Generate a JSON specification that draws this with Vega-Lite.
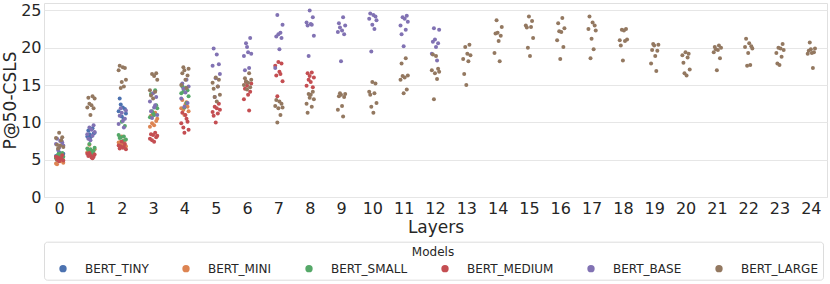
{
"$schema": "https://vega.github.io/schema/vega-lite/v6.json",
"autosize": {"type": "none"},
"padding": {"left": 44, "top": 3, "right": 3, "bottom": 87},
"width": 783,
"height": 194,
"background": "white",
"config": {
  "font": "DejaVu Sans",
  "view": {"stroke": "#e0e0e0", "strokeWidth": 1},
  "axis": {"domain": false, "ticks": false, "labelColor": "#262626", "titleColor": "#262626", "labelFont": "DejaVu Sans", "titleFont": "DejaVu Sans", "titleFontWeight": "normal", "labelFontSize": 16, "titleFontSize": 17}
},
"data": {"values": [
{"layer":0,"model":"BERT_TINY","p":6.0,"i":3},{"layer":0,"model":"BERT_TINY","p":5.7,"i":6},{"layer":0,"model":"BERT_TINY","p":5.5,"i":0},{"layer":0,"model":"BERT_TINY","p":5.3,"i":5},{"layer":0,"model":"BERT_TINY","p":5.1,"i":1},{"layer":0,"model":"BERT_TINY","p":5.8,"i":7},{"layer":0,"model":"BERT_TINY","p":5.4,"i":2},{"layer":0,"model":"BERT_TINY","p":4.9,"i":4},
{"layer":1,"model":"BERT_TINY","p":9.2,"i":5},{"layer":1,"model":"BERT_TINY","p":8.9,"i":1},{"layer":1,"model":"BERT_TINY","p":8.6,"i":7},{"layer":1,"model":"BERT_TINY","p":8.4,"i":2},{"layer":1,"model":"BERT_TINY","p":8.2,"i":4},{"layer":1,"model":"BERT_TINY","p":8.1,"i":0},{"layer":1,"model":"BERT_TINY","p":8.5,"i":6},{"layer":1,"model":"BERT_TINY","p":8.0,"i":3},
{"layer":2,"model":"BERT_TINY","p":13.2,"i":1},{"layer":2,"model":"BERT_TINY","p":12.0,"i":4},{"layer":2,"model":"BERT_TINY","p":11.8,"i":6},{"layer":2,"model":"BERT_TINY","p":11.5,"i":0},{"layer":2,"model":"BERT_TINY","p":11.2,"i":7},{"layer":2,"model":"BERT_TINY","p":10.8,"i":3},{"layer":2,"model":"BERT_TINY","p":10.5,"i":5},{"layer":2,"model":"BERT_TINY","p":12.4,"i":2},
{"layer":0,"model":"BERT_MINI","p":5.2,"i":6},{"layer":0,"model":"BERT_MINI","p":5.0,"i":2},{"layer":0,"model":"BERT_MINI","p":4.8,"i":4},{"layer":0,"model":"BERT_MINI","p":4.6,"i":7},{"layer":0,"model":"BERT_MINI","p":4.5,"i":0},{"layer":0,"model":"BERT_MINI","p":4.9,"i":5},{"layer":0,"model":"BERT_MINI","p":4.4,"i":1},{"layer":0,"model":"BERT_MINI","p":5.1,"i":3},
{"layer":1,"model":"BERT_MINI","p":7.0,"i":2},{"layer":1,"model":"BERT_MINI","p":6.4,"i":7},{"layer":1,"model":"BERT_MINI","p":6.1,"i":3},{"layer":1,"model":"BERT_MINI","p":5.9,"i":1},{"layer":1,"model":"BERT_MINI","p":5.8,"i":6},{"layer":1,"model":"BERT_MINI","p":5.7,"i":4},{"layer":1,"model":"BERT_MINI","p":6.0,"i":0},{"layer":1,"model":"BERT_MINI","p":5.6,"i":5},
{"layer":2,"model":"BERT_MINI","p":8.1,"i":3},{"layer":2,"model":"BERT_MINI","p":7.6,"i":6},{"layer":2,"model":"BERT_MINI","p":7.3,"i":0},{"layer":2,"model":"BERT_MINI","p":7.2,"i":5},{"layer":2,"model":"BERT_MINI","p":7.0,"i":1},{"layer":2,"model":"BERT_MINI","p":6.8,"i":7},{"layer":2,"model":"BERT_MINI","p":7.4,"i":2},{"layer":2,"model":"BERT_MINI","p":6.9,"i":4},
{"layer":3,"model":"BERT_MINI","p":11.3,"i":5},{"layer":3,"model":"BERT_MINI","p":10.9,"i":1},{"layer":3,"model":"BERT_MINI","p":10.5,"i":7},{"layer":3,"model":"BERT_MINI","p":9.9,"i":2},{"layer":3,"model":"BERT_MINI","p":9.6,"i":4},{"layer":3,"model":"BERT_MINI","p":9.4,"i":0},{"layer":3,"model":"BERT_MINI","p":10.2,"i":6},{"layer":3,"model":"BERT_MINI","p":11.0,"i":3},
{"layer":4,"model":"BERT_MINI","p":13.0,"i":1},{"layer":4,"model":"BERT_MINI","p":12.4,"i":4},{"layer":4,"model":"BERT_MINI","p":12.1,"i":6},{"layer":4,"model":"BERT_MINI","p":11.9,"i":0},{"layer":4,"model":"BERT_MINI","p":11.5,"i":7},{"layer":4,"model":"BERT_MINI","p":11.0,"i":3},{"layer":4,"model":"BERT_MINI","p":12.7,"i":5},{"layer":4,"model":"BERT_MINI","p":11.7,"i":2},
{"layer":0,"model":"BERT_SMALL","p":5.9,"i":6},{"layer":0,"model":"BERT_SMALL","p":5.7,"i":2},{"layer":0,"model":"BERT_SMALL","p":5.6,"i":4},{"layer":0,"model":"BERT_SMALL","p":5.4,"i":7},{"layer":0,"model":"BERT_SMALL","p":5.2,"i":0},{"layer":0,"model":"BERT_SMALL","p":5.5,"i":5},{"layer":0,"model":"BERT_SMALL","p":5.0,"i":1},{"layer":0,"model":"BERT_SMALL","p":5.8,"i":3},
{"layer":1,"model":"BERT_SMALL","p":7.1,"i":2},{"layer":1,"model":"BERT_SMALL","p":6.6,"i":7},{"layer":1,"model":"BERT_SMALL","p":6.4,"i":3},{"layer":1,"model":"BERT_SMALL","p":6.3,"i":1},{"layer":1,"model":"BERT_SMALL","p":6.2,"i":6},{"layer":1,"model":"BERT_SMALL","p":6.0,"i":4},{"layer":1,"model":"BERT_SMALL","p":6.5,"i":0},{"layer":1,"model":"BERT_SMALL","p":5.9,"i":5},
{"layer":2,"model":"BERT_SMALL","p":10.1,"i":3},{"layer":2,"model":"BERT_SMALL","p":9.5,"i":6},{"layer":2,"model":"BERT_SMALL","p":8.3,"i":0},{"layer":2,"model":"BERT_SMALL","p":8.1,"i":5},{"layer":2,"model":"BERT_SMALL","p":7.9,"i":1},{"layer":2,"model":"BERT_SMALL","p":7.7,"i":7},{"layer":2,"model":"BERT_SMALL","p":8.0,"i":2},{"layer":2,"model":"BERT_SMALL","p":7.5,"i":4},
{"layer":3,"model":"BERT_SMALL","p":14.3,"i":5},{"layer":3,"model":"BERT_SMALL","p":13.8,"i":1},{"layer":3,"model":"BERT_SMALL","p":11.9,"i":7},{"layer":3,"model":"BERT_SMALL","p":11.5,"i":2},{"layer":3,"model":"BERT_SMALL","p":11.0,"i":4},{"layer":3,"model":"BERT_SMALL","p":10.7,"i":0},{"layer":3,"model":"BERT_SMALL","p":12.3,"i":6},{"layer":3,"model":"BERT_SMALL","p":11.2,"i":3},
{"layer":4,"model":"BERT_SMALL","p":14.8,"i":1},{"layer":4,"model":"BERT_SMALL","p":14.6,"i":4},{"layer":4,"model":"BERT_SMALL","p":14.3,"i":6},{"layer":4,"model":"BERT_SMALL","p":13.9,"i":0},{"layer":4,"model":"BERT_SMALL","p":13.5,"i":7},{"layer":4,"model":"BERT_SMALL","p":12.0,"i":3},{"layer":4,"model":"BERT_SMALL","p":12.6,"i":5},{"layer":4,"model":"BERT_SMALL","p":14.1,"i":2},
{"layer":0,"model":"BERT_MEDIUM","p":5.6,"i":6},{"layer":0,"model":"BERT_MEDIUM","p":5.3,"i":2},{"layer":0,"model":"BERT_MEDIUM","p":5.1,"i":4},{"layer":0,"model":"BERT_MEDIUM","p":4.9,"i":7},{"layer":0,"model":"BERT_MEDIUM","p":5.4,"i":0},{"layer":0,"model":"BERT_MEDIUM","p":5.2,"i":5},{"layer":0,"model":"BERT_MEDIUM","p":5.0,"i":1},{"layer":0,"model":"BERT_MEDIUM","p":4.8,"i":3},
{"layer":1,"model":"BERT_MEDIUM","p":5.9,"i":2},{"layer":1,"model":"BERT_MEDIUM","p":5.7,"i":7},{"layer":1,"model":"BERT_MEDIUM","p":5.6,"i":3},{"layer":1,"model":"BERT_MEDIUM","p":5.5,"i":1},{"layer":1,"model":"BERT_MEDIUM","p":5.4,"i":6},{"layer":1,"model":"BERT_MEDIUM","p":5.3,"i":4},{"layer":1,"model":"BERT_MEDIUM","p":5.8,"i":0},{"layer":1,"model":"BERT_MEDIUM","p":5.2,"i":5},
{"layer":2,"model":"BERT_MEDIUM","p":7.4,"i":3},{"layer":2,"model":"BERT_MEDIUM","p":7.1,"i":6},{"layer":2,"model":"BERT_MEDIUM","p":6.9,"i":0},{"layer":2,"model":"BERT_MEDIUM","p":6.7,"i":5},{"layer":2,"model":"BERT_MEDIUM","p":6.5,"i":1},{"layer":2,"model":"BERT_MEDIUM","p":6.4,"i":7},{"layer":2,"model":"BERT_MEDIUM","p":6.8,"i":2},{"layer":2,"model":"BERT_MEDIUM","p":6.6,"i":4},
{"layer":3,"model":"BERT_MEDIUM","p":8.6,"i":5},{"layer":3,"model":"BERT_MEDIUM","p":8.4,"i":1},{"layer":3,"model":"BERT_MEDIUM","p":8.2,"i":7},{"layer":3,"model":"BERT_MEDIUM","p":7.6,"i":2},{"layer":3,"model":"BERT_MEDIUM","p":7.4,"i":4},{"layer":3,"model":"BERT_MEDIUM","p":7.8,"i":0},{"layer":3,"model":"BERT_MEDIUM","p":8.0,"i":6},{"layer":3,"model":"BERT_MEDIUM","p":8.3,"i":3},
{"layer":4,"model":"BERT_MEDIUM","p":11.3,"i":1},{"layer":4,"model":"BERT_MEDIUM","p":11.0,"i":4},{"layer":4,"model":"BERT_MEDIUM","p":10.1,"i":6},{"layer":4,"model":"BERT_MEDIUM","p":9.9,"i":0},{"layer":4,"model":"BERT_MEDIUM","p":9.0,"i":7},{"layer":4,"model":"BERT_MEDIUM","p":8.6,"i":3},{"layer":4,"model":"BERT_MEDIUM","p":10.5,"i":5},{"layer":4,"model":"BERT_MEDIUM","p":9.3,"i":2},
{"layer":5,"model":"BERT_MEDIUM","p":12.5,"i":6},{"layer":5,"model":"BERT_MEDIUM","p":12.1,"i":2},{"layer":5,"model":"BERT_MEDIUM","p":11.9,"i":4},{"layer":5,"model":"BERT_MEDIUM","p":11.7,"i":7},{"layer":5,"model":"BERT_MEDIUM","p":11.4,"i":0},{"layer":5,"model":"BERT_MEDIUM","p":11.2,"i":5},{"layer":5,"model":"BERT_MEDIUM","p":10.9,"i":1},{"layer":5,"model":"BERT_MEDIUM","p":10.0,"i":3},
{"layer":6,"model":"BERT_MEDIUM","p":15.4,"i":2},{"layer":6,"model":"BERT_MEDIUM","p":15.2,"i":7},{"layer":6,"model":"BERT_MEDIUM","p":14.9,"i":3},{"layer":6,"model":"BERT_MEDIUM","p":14.5,"i":1},{"layer":6,"model":"BERT_MEDIUM","p":14.1,"i":6},{"layer":6,"model":"BERT_MEDIUM","p":13.7,"i":4},{"layer":6,"model":"BERT_MEDIUM","p":13.1,"i":0},{"layer":6,"model":"BERT_MEDIUM","p":11.6,"i":5},
{"layer":7,"model":"BERT_MEDIUM","p":18.1,"i":3},{"layer":7,"model":"BERT_MEDIUM","p":17.9,"i":6},{"layer":7,"model":"BERT_MEDIUM","p":17.6,"i":0},{"layer":7,"model":"BERT_MEDIUM","p":16.5,"i":5},{"layer":7,"model":"BERT_MEDIUM","p":16.3,"i":1},{"layer":7,"model":"BERT_MEDIUM","p":15.5,"i":7},{"layer":7,"model":"BERT_MEDIUM","p":13.5,"i":2},{"layer":7,"model":"BERT_MEDIUM","p":16.8,"i":4},
{"layer":8,"model":"BERT_MEDIUM","p":16.7,"i":5},{"layer":8,"model":"BERT_MEDIUM","p":16.6,"i":1},{"layer":8,"model":"BERT_MEDIUM","p":16.0,"i":7},{"layer":8,"model":"BERT_MEDIUM","p":15.7,"i":2},{"layer":8,"model":"BERT_MEDIUM","p":15.4,"i":4},{"layer":8,"model":"BERT_MEDIUM","p":14.9,"i":0},{"layer":8,"model":"BERT_MEDIUM","p":14.7,"i":6},{"layer":8,"model":"BERT_MEDIUM","p":16.2,"i":3},
{"layer":0,"model":"BERT_BASE","p":7.8,"i":1},{"layer":0,"model":"BERT_BASE","p":7.5,"i":4},{"layer":0,"model":"BERT_BASE","p":7.3,"i":6},{"layer":0,"model":"BERT_BASE","p":7.1,"i":0},{"layer":0,"model":"BERT_BASE","p":6.9,"i":7},{"layer":0,"model":"BERT_BASE","p":6.6,"i":3},{"layer":0,"model":"BERT_BASE","p":7.6,"i":5},{"layer":0,"model":"BERT_BASE","p":6.3,"i":2},
{"layer":1,"model":"BERT_BASE","p":9.6,"i":6},{"layer":1,"model":"BERT_BASE","p":9.3,"i":2},{"layer":1,"model":"BERT_BASE","p":9.0,"i":4},{"layer":1,"model":"BERT_BASE","p":8.7,"i":7},{"layer":1,"model":"BERT_BASE","p":8.4,"i":0},{"layer":1,"model":"BERT_BASE","p":8.2,"i":5},{"layer":1,"model":"BERT_BASE","p":7.8,"i":1},{"layer":1,"model":"BERT_BASE","p":7.6,"i":3},
{"layer":2,"model":"BERT_BASE","p":11.9,"i":2},{"layer":2,"model":"BERT_BASE","p":11.6,"i":7},{"layer":2,"model":"BERT_BASE","p":11.3,"i":3},{"layer":2,"model":"BERT_BASE","p":10.9,"i":1},{"layer":2,"model":"BERT_BASE","p":10.5,"i":6},{"layer":2,"model":"BERT_BASE","p":10.2,"i":4},{"layer":2,"model":"BERT_BASE","p":9.8,"i":0},{"layer":2,"model":"BERT_BASE","p":9.3,"i":5},
{"layer":3,"model":"BERT_BASE","p":13.9,"i":3},{"layer":3,"model":"BERT_BASE","p":13.4,"i":6},{"layer":3,"model":"BERT_BASE","p":12.8,"i":0},{"layer":3,"model":"BERT_BASE","p":12.3,"i":5},{"layer":3,"model":"BERT_BASE","p":11.5,"i":1},{"layer":3,"model":"BERT_BASE","p":11.0,"i":7},{"layer":3,"model":"BERT_BASE","p":10.6,"i":2},{"layer":3,"model":"BERT_BASE","p":12.0,"i":4},
{"layer":4,"model":"BERT_BASE","p":15.7,"i":5},{"layer":4,"model":"BERT_BASE","p":15.2,"i":1},{"layer":4,"model":"BERT_BASE","p":14.8,"i":7},{"layer":4,"model":"BERT_BASE","p":14.5,"i":2},{"layer":4,"model":"BERT_BASE","p":14.0,"i":4},{"layer":4,"model":"BERT_BASE","p":13.2,"i":0},{"layer":4,"model":"BERT_BASE","p":12.6,"i":6},{"layer":4,"model":"BERT_BASE","p":12.1,"i":3},
{"layer":5,"model":"BERT_BASE","p":19.9,"i":1},{"layer":5,"model":"BERT_BASE","p":19.1,"i":4},{"layer":5,"model":"BERT_BASE","p":17.8,"i":6},{"layer":5,"model":"BERT_BASE","p":17.6,"i":0},{"layer":5,"model":"BERT_BASE","p":16.5,"i":7},{"layer":5,"model":"BERT_BASE","p":15.9,"i":3},{"layer":5,"model":"BERT_BASE","p":14.8,"i":5},{"layer":5,"model":"BERT_BASE","p":13.4,"i":2},
{"layer":6,"model":"BERT_BASE","p":21.3,"i":6},{"layer":6,"model":"BERT_BASE","p":20.6,"i":2},{"layer":6,"model":"BERT_BASE","p":19.4,"i":4},{"layer":6,"model":"BERT_BASE","p":19.2,"i":7},{"layer":6,"model":"BERT_BASE","p":18.9,"i":0},{"layer":6,"model":"BERT_BASE","p":17.3,"i":5},{"layer":6,"model":"BERT_BASE","p":17.0,"i":1},{"layer":6,"model":"BERT_BASE","p":20.1,"i":3},
{"layer":7,"model":"BERT_BASE","p":24.4,"i":2},{"layer":7,"model":"BERT_BASE","p":23.1,"i":7},{"layer":7,"model":"BERT_BASE","p":21.8,"i":3},{"layer":7,"model":"BERT_BASE","p":21.5,"i":1},{"layer":7,"model":"BERT_BASE","p":21.3,"i":6},{"layer":7,"model":"BERT_BASE","p":19.8,"i":4},{"layer":7,"model":"BERT_BASE","p":17.3,"i":0},{"layer":7,"model":"BERT_BASE","p":22.0,"i":5},
{"layer":8,"model":"BERT_BASE","p":25.0,"i":3},{"layer":8,"model":"BERT_BASE","p":24.1,"i":6},{"layer":8,"model":"BERT_BASE","p":23.4,"i":0},{"layer":8,"model":"BERT_BASE","p":23.1,"i":5},{"layer":8,"model":"BERT_BASE","p":23.0,"i":1},{"layer":8,"model":"BERT_BASE","p":21.6,"i":7},{"layer":8,"model":"BERT_BASE","p":18.9,"i":2},{"layer":8,"model":"BERT_BASE","p":23.2,"i":4},
{"layer":9,"model":"BERT_BASE","p":24.1,"i":5},{"layer":9,"model":"BERT_BASE","p":23.3,"i":1},{"layer":9,"model":"BERT_BASE","p":23.0,"i":7},{"layer":9,"model":"BERT_BASE","p":22.7,"i":2},{"layer":9,"model":"BERT_BASE","p":22.3,"i":4},{"layer":9,"model":"BERT_BASE","p":22.1,"i":0},{"layer":9,"model":"BERT_BASE","p":21.8,"i":6},{"layer":9,"model":"BERT_BASE","p":18.2,"i":3},
{"layer":10,"model":"BERT_BASE","p":24.6,"i":1},{"layer":10,"model":"BERT_BASE","p":24.4,"i":4},{"layer":10,"model":"BERT_BASE","p":24.2,"i":6},{"layer":10,"model":"BERT_BASE","p":23.9,"i":0},{"layer":10,"model":"BERT_BASE","p":23.7,"i":7},{"layer":10,"model":"BERT_BASE","p":23.1,"i":3},{"layer":10,"model":"BERT_BASE","p":22.5,"i":5},{"layer":10,"model":"BERT_BASE","p":19.5,"i":2},
{"layer":11,"model":"BERT_BASE","p":24.3,"i":6},{"layer":11,"model":"BERT_BASE","p":24.1,"i":2},{"layer":11,"model":"BERT_BASE","p":23.9,"i":4},{"layer":11,"model":"BERT_BASE","p":23.5,"i":7},{"layer":11,"model":"BERT_BASE","p":23.0,"i":0},{"layer":11,"model":"BERT_BASE","p":22.4,"i":5},{"layer":11,"model":"BERT_BASE","p":21.8,"i":1},{"layer":11,"model":"BERT_BASE","p":20.2,"i":3},
{"layer":12,"model":"BERT_BASE","p":22.6,"i":2},{"layer":12,"model":"BERT_BASE","p":22.4,"i":7},{"layer":12,"model":"BERT_BASE","p":21.1,"i":3},{"layer":12,"model":"BERT_BASE","p":20.8,"i":1},{"layer":12,"model":"BERT_BASE","p":20.6,"i":6},{"layer":12,"model":"BERT_BASE","p":20.1,"i":4},{"layer":12,"model":"BERT_BASE","p":19.2,"i":0},{"layer":12,"model":"BERT_BASE","p":18.3,"i":5},
{"layer":0,"model":"BERT_LARGE","p":8.6,"i":3},{"layer":0,"model":"BERT_LARGE","p":8.0,"i":6},{"layer":0,"model":"BERT_LARGE","p":7.9,"i":0},{"layer":0,"model":"BERT_LARGE","p":7.6,"i":5},{"layer":0,"model":"BERT_LARGE","p":7.0,"i":1},{"layer":0,"model":"BERT_LARGE","p":6.7,"i":7},{"layer":0,"model":"BERT_LARGE","p":6.5,"i":2},{"layer":0,"model":"BERT_LARGE","p":6.9,"i":4},
{"layer":1,"model":"BERT_LARGE","p":13.5,"i":5},{"layer":1,"model":"BERT_LARGE","p":13.3,"i":1},{"layer":1,"model":"BERT_LARGE","p":13.2,"i":7},{"layer":1,"model":"BERT_LARGE","p":12.5,"i":2},{"layer":1,"model":"BERT_LARGE","p":12.3,"i":4},{"layer":1,"model":"BERT_LARGE","p":12.0,"i":0},{"layer":1,"model":"BERT_LARGE","p":11.9,"i":6},{"layer":1,"model":"BERT_LARGE","p":11.0,"i":3},
{"layer":2,"model":"BERT_LARGE","p":17.6,"i":1},{"layer":2,"model":"BERT_LARGE","p":17.4,"i":4},{"layer":2,"model":"BERT_LARGE","p":17.3,"i":6},{"layer":2,"model":"BERT_LARGE","p":17.0,"i":0},{"layer":2,"model":"BERT_LARGE","p":15.7,"i":7},{"layer":2,"model":"BERT_LARGE","p":15.4,"i":3},{"layer":2,"model":"BERT_LARGE","p":14.8,"i":5},{"layer":2,"model":"BERT_LARGE","p":14.6,"i":2},
{"layer":3,"model":"BERT_LARGE","p":16.6,"i":6},{"layer":3,"model":"BERT_LARGE","p":16.5,"i":2},{"layer":3,"model":"BERT_LARGE","p":16.2,"i":4},{"layer":3,"model":"BERT_LARGE","p":15.7,"i":7},{"layer":3,"model":"BERT_LARGE","p":14.3,"i":0},{"layer":3,"model":"BERT_LARGE","p":14.1,"i":5},{"layer":3,"model":"BERT_LARGE","p":13.6,"i":1},{"layer":3,"model":"BERT_LARGE","p":13.2,"i":3},
{"layer":4,"model":"BERT_LARGE","p":17.4,"i":2},{"layer":4,"model":"BERT_LARGE","p":17.2,"i":7},{"layer":4,"model":"BERT_LARGE","p":17.0,"i":3},{"layer":4,"model":"BERT_LARGE","p":16.6,"i":1},{"layer":4,"model":"BERT_LARGE","p":16.3,"i":6},{"layer":4,"model":"BERT_LARGE","p":15.7,"i":4},{"layer":4,"model":"BERT_LARGE","p":15.0,"i":0},{"layer":4,"model":"BERT_LARGE","p":14.6,"i":5},
{"layer":5,"model":"BERT_LARGE","p":16.0,"i":3},{"layer":5,"model":"BERT_LARGE","p":15.7,"i":6},{"layer":5,"model":"BERT_LARGE","p":15.3,"i":0},{"layer":5,"model":"BERT_LARGE","p":14.8,"i":5},{"layer":5,"model":"BERT_LARGE","p":14.5,"i":1},{"layer":5,"model":"BERT_LARGE","p":13.7,"i":7},{"layer":5,"model":"BERT_LARGE","p":13.4,"i":2},{"layer":5,"model":"BERT_LARGE","p":12.8,"i":4},
{"layer":6,"model":"BERT_LARGE","p":16.6,"i":5},{"layer":6,"model":"BERT_LARGE","p":15.9,"i":1},{"layer":6,"model":"BERT_LARGE","p":15.7,"i":7},{"layer":6,"model":"BERT_LARGE","p":15.5,"i":2},{"layer":6,"model":"BERT_LARGE","p":15.3,"i":4},{"layer":6,"model":"BERT_LARGE","p":15.0,"i":0},{"layer":6,"model":"BERT_LARGE","p":14.7,"i":6},{"layer":6,"model":"BERT_LARGE","p":14.4,"i":3},
{"layer":7,"model":"BERT_LARGE","p":13.0,"i":1},{"layer":7,"model":"BERT_LARGE","p":12.8,"i":4},{"layer":7,"model":"BERT_LARGE","p":12.5,"i":6},{"layer":7,"model":"BERT_LARGE","p":12.2,"i":0},{"layer":7,"model":"BERT_LARGE","p":12.0,"i":7},{"layer":7,"model":"BERT_LARGE","p":11.9,"i":3},{"layer":7,"model":"BERT_LARGE","p":11.0,"i":5},{"layer":7,"model":"BERT_LARGE","p":10.0,"i":2},
{"layer":8,"model":"BERT_LARGE","p":14.1,"i":6},{"layer":8,"model":"BERT_LARGE","p":13.8,"i":2},{"layer":8,"model":"BERT_LARGE","p":13.7,"i":4},{"layer":8,"model":"BERT_LARGE","p":13.1,"i":7},{"layer":8,"model":"BERT_LARGE","p":12.5,"i":0},{"layer":8,"model":"BERT_LARGE","p":12.1,"i":5},{"layer":8,"model":"BERT_LARGE","p":11.3,"i":1},{"layer":8,"model":"BERT_LARGE","p":13.3,"i":3},
{"layer":9,"model":"BERT_LARGE","p":13.9,"i":2},{"layer":9,"model":"BERT_LARGE","p":13.8,"i":7},{"layer":9,"model":"BERT_LARGE","p":13.7,"i":3},{"layer":9,"model":"BERT_LARGE","p":13.5,"i":1},{"layer":9,"model":"BERT_LARGE","p":13.4,"i":6},{"layer":9,"model":"BERT_LARGE","p":12.2,"i":4},{"layer":9,"model":"BERT_LARGE","p":11.7,"i":0},{"layer":9,"model":"BERT_LARGE","p":10.8,"i":5},
{"layer":10,"model":"BERT_LARGE","p":15.4,"i":3},{"layer":10,"model":"BERT_LARGE","p":15.2,"i":6},{"layer":10,"model":"BERT_LARGE","p":14.1,"i":0},{"layer":10,"model":"BERT_LARGE","p":13.9,"i":5},{"layer":10,"model":"BERT_LARGE","p":13.7,"i":1},{"layer":10,"model":"BERT_LARGE","p":12.6,"i":7},{"layer":10,"model":"BERT_LARGE","p":12.1,"i":2},{"layer":10,"model":"BERT_LARGE","p":11.3,"i":4},
{"layer":11,"model":"BERT_LARGE","p":18.6,"i":5},{"layer":11,"model":"BERT_LARGE","p":17.9,"i":1},{"layer":11,"model":"BERT_LARGE","p":16.3,"i":7},{"layer":11,"model":"BERT_LARGE","p":16.2,"i":2},{"layer":11,"model":"BERT_LARGE","p":16.0,"i":4},{"layer":11,"model":"BERT_LARGE","p":15.7,"i":0},{"layer":11,"model":"BERT_LARGE","p":14.4,"i":6},{"layer":11,"model":"BERT_LARGE","p":13.9,"i":3},
{"layer":12,"model":"BERT_LARGE","p":19.1,"i":1},{"layer":12,"model":"BERT_LARGE","p":18.9,"i":4},{"layer":12,"model":"BERT_LARGE","p":17.2,"i":6},{"layer":12,"model":"BERT_LARGE","p":17.0,"i":0},{"layer":12,"model":"BERT_LARGE","p":16.8,"i":7},{"layer":12,"model":"BERT_LARGE","p":16.6,"i":3},{"layer":12,"model":"BERT_LARGE","p":15.8,"i":5},{"layer":12,"model":"BERT_LARGE","p":13.1,"i":2},
{"layer":13,"model":"BERT_LARGE","p":20.4,"i":6},{"layer":13,"model":"BERT_LARGE","p":20.1,"i":2},{"layer":13,"model":"BERT_LARGE","p":19.2,"i":4},{"layer":13,"model":"BERT_LARGE","p":19.0,"i":7},{"layer":13,"model":"BERT_LARGE","p":18.5,"i":0},{"layer":13,"model":"BERT_LARGE","p":18.2,"i":5},{"layer":13,"model":"BERT_LARGE","p":16.5,"i":1},{"layer":13,"model":"BERT_LARGE","p":15.0,"i":3},
{"layer":14,"model":"BERT_LARGE","p":23.7,"i":2},{"layer":14,"model":"BERT_LARGE","p":22.8,"i":7},{"layer":14,"model":"BERT_LARGE","p":22.0,"i":3},{"layer":14,"model":"BERT_LARGE","p":21.9,"i":1},{"layer":14,"model":"BERT_LARGE","p":21.6,"i":6},{"layer":14,"model":"BERT_LARGE","p":20.9,"i":4},{"layer":14,"model":"BERT_LARGE","p":19.3,"i":0},{"layer":14,"model":"BERT_LARGE","p":18.2,"i":5},
{"layer":15,"model":"BERT_LARGE","p":24.2,"i":3},{"layer":15,"model":"BERT_LARGE","p":23.6,"i":6},{"layer":15,"model":"BERT_LARGE","p":23.0,"i":0},{"layer":15,"model":"BERT_LARGE","p":22.8,"i":5},{"layer":15,"model":"BERT_LARGE","p":22.7,"i":1},{"layer":15,"model":"BERT_LARGE","p":21.3,"i":7},{"layer":15,"model":"BERT_LARGE","p":20.0,"i":2},{"layer":15,"model":"BERT_LARGE","p":18.9,"i":4},
{"layer":16,"model":"BERT_LARGE","p":24.0,"i":5},{"layer":16,"model":"BERT_LARGE","p":23.3,"i":1},{"layer":16,"model":"BERT_LARGE","p":22.6,"i":7},{"layer":16,"model":"BERT_LARGE","p":22.2,"i":2},{"layer":16,"model":"BERT_LARGE","p":22.1,"i":4},{"layer":16,"model":"BERT_LARGE","p":21.0,"i":0},{"layer":16,"model":"BERT_LARGE","p":20.1,"i":6},{"layer":16,"model":"BERT_LARGE","p":18.5,"i":3},
{"layer":17,"model":"BERT_LARGE","p":24.2,"i":1},{"layer":17,"model":"BERT_LARGE","p":23.4,"i":4},{"layer":17,"model":"BERT_LARGE","p":23.0,"i":6},{"layer":17,"model":"BERT_LARGE","p":22.5,"i":0},{"layer":17,"model":"BERT_LARGE","p":22.3,"i":7},{"layer":17,"model":"BERT_LARGE","p":21.2,"i":3},{"layer":17,"model":"BERT_LARGE","p":19.8,"i":5},{"layer":17,"model":"BERT_LARGE","p":18.6,"i":2},
{"layer":18,"model":"BERT_LARGE","p":22.5,"i":6},{"layer":18,"model":"BERT_LARGE","p":22.4,"i":2},{"layer":18,"model":"BERT_LARGE","p":22.3,"i":4},{"layer":18,"model":"BERT_LARGE","p":21.1,"i":7},{"layer":18,"model":"BERT_LARGE","p":21.0,"i":0},{"layer":18,"model":"BERT_LARGE","p":20.9,"i":5},{"layer":18,"model":"BERT_LARGE","p":20.3,"i":1},{"layer":18,"model":"BERT_LARGE","p":18.3,"i":3},
{"layer":19,"model":"BERT_LARGE","p":20.5,"i":2},{"layer":19,"model":"BERT_LARGE","p":20.4,"i":7},{"layer":19,"model":"BERT_LARGE","p":20.3,"i":3},{"layer":19,"model":"BERT_LARGE","p":19.7,"i":1},{"layer":19,"model":"BERT_LARGE","p":19.6,"i":6},{"layer":19,"model":"BERT_LARGE","p":18.9,"i":4},{"layer":19,"model":"BERT_LARGE","p":17.9,"i":0},{"layer":19,"model":"BERT_LARGE","p":16.9,"i":5},
{"layer":20,"model":"BERT_LARGE","p":19.4,"i":3},{"layer":20,"model":"BERT_LARGE","p":19.2,"i":6},{"layer":20,"model":"BERT_LARGE","p":19.0,"i":0},{"layer":20,"model":"BERT_LARGE","p":18.7,"i":5},{"layer":20,"model":"BERT_LARGE","p":18.0,"i":1},{"layer":20,"model":"BERT_LARGE","p":17.1,"i":7},{"layer":20,"model":"BERT_LARGE","p":16.6,"i":2},{"layer":20,"model":"BERT_LARGE","p":16.3,"i":4},
{"layer":21,"model":"BERT_LARGE","p":20.3,"i":5},{"layer":21,"model":"BERT_LARGE","p":20.1,"i":1},{"layer":21,"model":"BERT_LARGE","p":20.0,"i":7},{"layer":21,"model":"BERT_LARGE","p":19.8,"i":2},{"layer":21,"model":"BERT_LARGE","p":19.7,"i":4},{"layer":21,"model":"BERT_LARGE","p":19.4,"i":0},{"layer":21,"model":"BERT_LARGE","p":18.6,"i":6},{"layer":21,"model":"BERT_LARGE","p":17.0,"i":3},
{"layer":22,"model":"BERT_LARGE","p":21.2,"i":1},{"layer":22,"model":"BERT_LARGE","p":20.6,"i":4},{"layer":22,"model":"BERT_LARGE","p":20.2,"i":6},{"layer":22,"model":"BERT_LARGE","p":20.1,"i":0},{"layer":22,"model":"BERT_LARGE","p":19.9,"i":7},{"layer":22,"model":"BERT_LARGE","p":19.3,"i":3},{"layer":22,"model":"BERT_LARGE","p":17.7,"i":5},{"layer":22,"model":"BERT_LARGE","p":17.6,"i":2},
{"layer":23,"model":"BERT_LARGE","p":20.5,"i":6},{"layer":23,"model":"BERT_LARGE","p":20.0,"i":2},{"layer":23,"model":"BERT_LARGE","p":19.9,"i":4},{"layer":23,"model":"BERT_LARGE","p":19.7,"i":7},{"layer":23,"model":"BERT_LARGE","p":19.3,"i":0},{"layer":23,"model":"BERT_LARGE","p":18.8,"i":5},{"layer":23,"model":"BERT_LARGE","p":17.9,"i":1},{"layer":23,"model":"BERT_LARGE","p":17.7,"i":3},
{"layer":24,"model":"BERT_LARGE","p":20.7,"i":2},{"layer":24,"model":"BERT_LARGE","p":19.9,"i":7},{"layer":24,"model":"BERT_LARGE","p":19.8,"i":3},{"layer":24,"model":"BERT_LARGE","p":19.6,"i":1},{"layer":24,"model":"BERT_LARGE","p":19.4,"i":6},{"layer":24,"model":"BERT_LARGE","p":19.3,"i":4},{"layer":24,"model":"BERT_LARGE","p":19.2,"i":0},{"layer":24,"model":"BERT_LARGE","p":17.3,"i":5}
]},
"mark": {"type": "circle", "size": 16, "opacity": 1},
"encoding": {
  "x": {"field": "layer", "type": "ordinal", "scale": {"paddingInner": 0, "paddingOuter": 0},
        "axis": {"title": "Layers", "labelAngle": 0, "labelPadding": 3, "titlePadding": 3, "grid": false}},
  "xOffset": {"field": "i", "type": "nominal", "scale": {"type": "point", "range": [12, 19.3], "padding": 0}},
  "y": {"field": "p", "type": "quantitative", "scale": {"domain": [0, 26], "nice": false, "zero": true},
        "axis": {"title": "P@50-CSLS", "values": [0, 5, 10, 15, 20, 25], "grid": true, "gridColor": "#e6e6e6", "gridWidth": 1, "labelPadding": 3, "titlePadding": 1}},
  "color": {"field": "model", "type": "nominal",
    "scale": {"domain": ["BERT_TINY", "BERT_MINI", "BERT_SMALL", "BERT_MEDIUM", "BERT_BASE", "BERT_LARGE"],
              "range": ["#4C72B0", "#DD8452", "#55A868", "#C44E52", "#8172B3", "#937860"]},
    "legend": {"orient": "none", "legendX": 0, "legendY": 238.7, "direction": "horizontal", "title": "Models",
      "titleAnchor": "middle", "titleFontSize": 12, "titleFontWeight": "normal", "titleColor": "#262626", "titlePadding": 4,
      "labelFontSize": 12, "labelColor": "#262626", "symbolSize": 54, "symbolType": "circle", "symbolStrokeWidth": 0,
      "strokeColor": "#dcdcdc", "fillColor": "white", "padding": 5, "cornerRadius": 3,
      "columnPadding": 23, "labelOffset": 16, "symbolOffset": 8}}
}
}
